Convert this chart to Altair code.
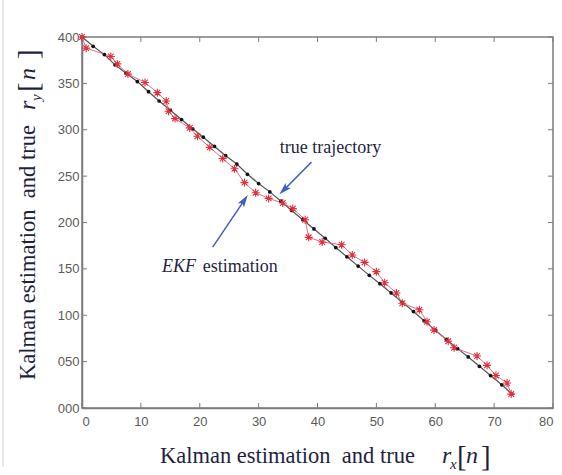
import altair as alt
import pandas as pd

# ---- data ----
true_x = [0, 1.9, 3.8, 5.6, 7.5, 9.4, 11.3, 13.1, 15.0, 16.9, 18.8, 20.6, 22.5, 24.4, 26.3,
          28.1, 30.0, 31.9, 33.8, 35.6, 37.5, 39.4, 41.3, 43.1, 45.0, 46.9, 48.8, 50.6,
          52.5, 54.4, 56.3, 58.1, 60.0, 61.9, 63.8, 65.6, 67.5, 69.4, 71.3, 73.0]
true_y = [400, 390, 381, 370, 361, 352, 341, 331, 321, 311, 301, 292, 282, 272, 263,
          252, 242, 233, 223, 213, 203, 193, 183, 173, 163, 153, 143, 134,
          124, 114, 104, 94, 84, 74, 64, 55, 45, 35, 25, 15]

ekf_x = [0, 0.7, 4.9, 6.0, 7.8, 10.7, 12.8, 14.3, 14.7, 15.8, 18.3, 19.6, 21.7, 23.9,
         25.9, 27.6, 29.5, 31.7, 34.1, 35.8, 37.9, 38.5, 40.8, 44.1, 45.9, 48.0, 50.0,
         51.4, 53.4, 54.4, 57.3, 58.6, 59.8, 62.2, 63.2, 67.1, 68.8, 70.3, 72.2, 72.9]
ekf_y = [400, 388, 379, 371, 360, 351, 340, 331, 320, 312, 302, 293, 281, 269,
         258, 243, 232, 226, 221, 215, 203, 184, 179, 176, 165, 157, 147,
         135, 124, 113, 106, 93, 84, 72, 65, 56, 46, 35, 27, 15]

x_ticks = [0, 10, 20, 30, 40, 50, 60, 70, 80]
y_ticks = [0, 50, 100, 150, 200, 250, 300, 350, 400]

# annotation arrows (data coordinates): tail, head centre, head angle
arrow_x = [38.98, 22.2]
arrow_y = [265.1, 173.5]
arrow_x2 = [34.27, 27.58]
arrow_y2 = [235.1, 224.1]
arrow_angle = [225, 34]

W, H = 471, 371
AX = "#7c7c7c"
TXT = "#1f1f3f"
SERIF = "Liberation Serif"
NB = "\u00a0"

xs = alt.Scale(domain=[0, 80], nice=False, zero=False)
ys = alt.Scale(domain=[0, 400], nice=False, zero=False)

true_df = pd.DataFrame({"x": true_x, "y": true_y, "i": list(range(len(true_x)))})
ekf_df = pd.DataFrame({"x": ekf_x, "y": ekf_y, "i": list(range(len(ekf_x)))})
xt_df = pd.DataFrame({"v": x_ticks})
yt_df = pd.DataFrame({"v": y_ticks})
arr_df = pd.DataFrame({"x": arrow_x, "y": arrow_y, "x2": arrow_x2, "y2": arrow_y2,
                       "angle": arrow_angle})
one = pd.DataFrame({"a": [0]})

x_axis = alt.Axis(values=x_ticks, title="", ticks=False, tickSize=0, grid=False,
                  domainColor=AX, domainWidth=1.5, labelColor="#5a5a5a",
                  labelFont="Liberation Sans", labelFontSize=13, labelPadding=7)
y_axis = alt.Axis(values=y_ticks, title="", ticks=False, tickSize=0, grid=False,
                  domainColor=AX, domainWidth=1.5, labelColor="#5a5a5a",
                  labelFont="Liberation Sans", labelFontSize=13, labelPadding=3,
                  labelExpr="datum.value < 10 ? '000' : (datum.value < 100 ? '0' + datum.label : datum.label)")

true_line = alt.Chart(true_df).mark_line(color="#555555", strokeWidth=1.2).encode(
    x=alt.X("x:Q", scale=xs, axis=x_axis),
    y=alt.Y("y:Q", scale=ys, axis=y_axis),
    order="i:Q")
true_pts = alt.Chart(true_df).mark_point(filled=True, color="#111111", size=14,
                                         opacity=1, shape="circle").encode(
    x=alt.X("x:Q", scale=xs), y=alt.Y("y:Q", scale=ys))

ekf_line = alt.Chart(ekf_df).mark_line(color="#e07080", strokeWidth=1).encode(
    x=alt.X("x:Q", scale=xs), y=alt.Y("y:Q", scale=ys), order="i:Q")
ast = "M-1,0L1,0M0,-1L0,1M-0.71,-0.71L0.71,0.71M-0.71,0.71L0.71,-0.71"
ekf_pts = alt.Chart(ekf_df).mark_point(filled=False, color="#e0303f", size=64,
                                       strokeWidth=1.1, opacity=1, shape=ast).encode(
    x=alt.X("x:Q", scale=xs), y=alt.Y("y:Q", scale=ys))

# inward ticks on all four sides
tk = dict(color=AX, strokeWidth=1)
tb = alt.Chart(xt_df).mark_rule(**tk).encode(x=alt.X("v:Q", scale=xs),
                                            y=alt.value(H), y2=alt.value(H - 5))
tt = alt.Chart(xt_df).mark_rule(**tk).encode(x=alt.X("v:Q", scale=xs),
                                            y=alt.value(0), y2=alt.value(5))
tl = alt.Chart(yt_df).mark_rule(**tk).encode(y=alt.Y("v:Q", scale=ys),
                                            x=alt.value(0), x2=alt.value(5))
tr = alt.Chart(yt_df).mark_rule(**tk).encode(y=alt.Y("v:Q", scale=ys),
                                            x=alt.value(W), x2=alt.value(W - 5))

# arrows
arr_line = alt.Chart(arr_df).mark_rule(color="#3f5fc0", strokeWidth=1.5).encode(
    x=alt.X("x:Q", scale=xs), y=alt.Y("y:Q", scale=ys),
    x2="x2:Q", y2="y2:Q")
head = "M0,-1L0.6,1L0,0.6L-0.6,1Z"
arr_head = alt.Chart(arr_df).mark_point(shape=head, filled=True, color="#3f5fc0",
                                        size=150, opacity=1, strokeWidth=0).encode(
    x=alt.X("x2:Q", scale=xs), y=alt.Y("y2:Q", scale=ys),
    angle=alt.Angle("angle:Q", scale=None))

# annotation texts (data coordinates)
ann_true = alt.Chart(pd.DataFrame({"x": [33.6], "y": [274.8], "t": ["true trajectory"]})).mark_text(
    font=SERIF, fontSize=18, color=TXT, align="left", baseline="alphabetic").encode(
    x=alt.X("x:Q", scale=xs), y=alt.Y("y:Q", scale=ys), text="t:N")
ann_ekf1 = alt.Chart(pd.DataFrame({"x": [13.6], "y": [146.6], "t": ["EKF"]})).mark_text(
    font=SERIF, fontSize=18, fontStyle="italic", color=TXT, align="left",
    baseline="alphabetic").encode(
    x=alt.X("x:Q", scale=xs), y=alt.Y("y:Q", scale=ys), text="t:N")
ann_ekf2 = alt.Chart(pd.DataFrame({"x": [20.5], "y": [146.6], "t": ["estimation"]})).mark_text(
    font=SERIF, fontSize=18, color=TXT, align="left", baseline="alphabetic").encode(
    x=alt.X("x:Q", scale=xs), y=alt.Y("y:Q", scale=ys), text="t:N")


def txt(s, x, y, size, italic=False, angle=0):
    kw = dict(text=s, font=SERIF, fontSize=size, color=TXT, align="left",
              baseline="alphabetic")
    if italic:
        kw["fontStyle"] = "italic"
    if angle:
        kw["angle"] = angle
    return alt.Chart(one).mark_text(**kw).encode(x=alt.value(x), y=alt.value(y))


title_txt = "Kalman estimation" + NB + NB + "and true"
# x title pieces (pixel offsets relative to plot origin)
xt = [
    txt(title_txt, 78, 426, 22.5),
    txt("r", 360, 426, 24, italic=True),
    txt("x", 368, 432, 15, italic=True),
    txt("[", 375, 429, 29),
    txt("n", 384, 426, 24, italic=True),
    txt("]", 399, 429, 29),
]
# y title pieces (rotated)
yt = [
    txt(title_txt, -47, 343, 22.5, angle=270),
    txt("r", -47, 73, 24, italic=True, angle=270),
    txt("y", -41, 64, 15, italic=True, angle=270),
    txt("[", -44, 55, 29, angle=270),
    txt("n", -47, 43, 24, italic=True, angle=270),
    txt("]", -44, 22, 29, angle=270),
]

frame = alt.Chart(one).mark_rule(color="#d0d0d0", strokeWidth=1).encode(
    x=alt.value(-79), y=alt.value(-37), y2=alt.value(430))

chart = alt.layer(
    frame, tb, tt, tl, tr,
    true_line, ekf_line, true_pts, ekf_pts,
    arr_line, arr_head, ann_true, ann_ekf1, ann_ekf2,
    *xt, *yt
).properties(
    width=W, height=H,
    autosize=alt.AutoSizeParams(type="none"),
    padding={"left": 82, "top": 37, "right": 9, "bottom": 67},
    background="white"
).configure_view(
    stroke=AX, strokeWidth=1.5
)

chart.save("out.html", embed_options={"renderer": "svg", "actions": False})
